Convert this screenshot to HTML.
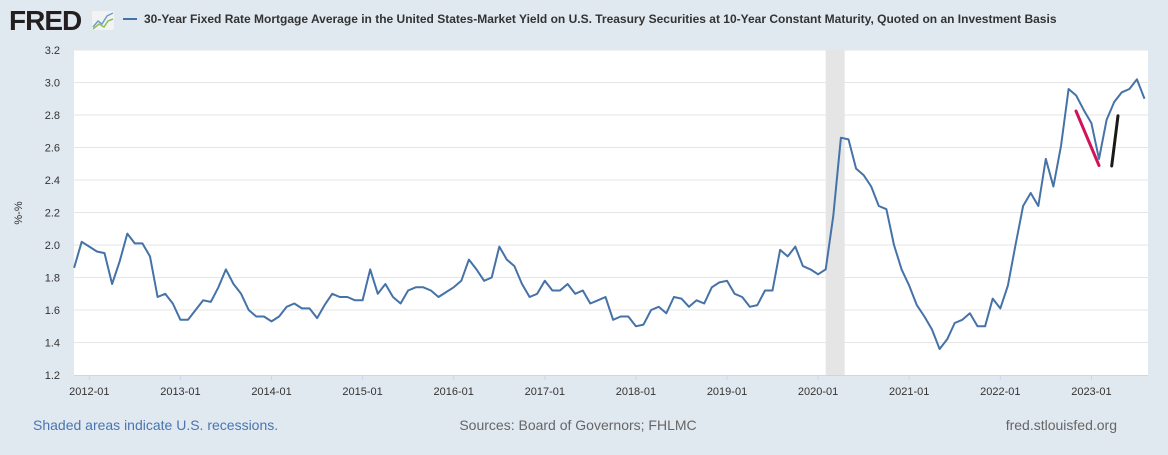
<!DOCTYPE html>
<html><head><meta charset="utf-8"><style>
body{margin:0;width:1168px;height:450px;background:#e1e9f0;font-family:"Liberation Sans",sans-serif;overflow:hidden}
</style></head><body>
<svg width="1168" height="450" xmlns="http://www.w3.org/2000/svg">
<g>
<text x="9" y="30" font-size="28" font-weight="bold" fill="#231f20" letter-spacing="-1">FRED</text>
<rect x="92" y="11" width="22" height="19" fill="#f3f3f3" rx="2"/>
<polyline points="93,27 98,21 102,24 107,16 113,13" fill="none" stroke="#6fa0d0" stroke-width="1.5"/>
<polyline points="93,29 99,24 104,27 108,21 113,19" fill="none" stroke="#8dbf5a" stroke-width="1.5"/>
</g>
<line x1="123" y1="19" x2="137" y2="19" stroke="#4572a7" stroke-width="2"/>
<text x="144" y="23" font-size="12" font-weight="bold" fill="#333">30-Year Fixed Rate Mortgage Average in the United States-Market Yield on U.S. Treasury Securities at 10-Year Constant Maturity, Quoted on an Investment Basis</text>
<rect x="74" y="50" width="1074" height="325" fill="#fff"/>
<g id="grid"></g>
<g id="rec"></g>
<g id="yt"></g>
<g id="xt"></g>
<path id="series" fill="none" stroke="#4572a7" stroke-width="2" stroke-linejoin="round"/>
<line x1="1076" y1="111" x2="1099" y2="165.5" stroke="#d1145a" stroke-width="3" stroke-linecap="round"/>
<line x1="1111.7" y1="166" x2="1118" y2="115.7" stroke="#1a1a1a" stroke-width="3" stroke-linecap="round"/>
<text transform="translate(22,213) rotate(-90)" font-size="11" fill="#333" text-anchor="middle">%-%</text>
<text x="33" y="430" font-size="14" fill="#4a74b0">Shaded areas indicate U.S. recessions.</text>
<text x="578" y="430" font-size="14" fill="#666" text-anchor="middle">Sources: Board of Governors; FHLMC</text>
<text x="1117" y="430" font-size="14" fill="#666" text-anchor="end">fred.stlouisfed.org</text>
</svg>
<script>
const startYear = 2011, startMonth = 11;
const values = [1.86,2.02,1.99,1.96,1.95,1.76,1.90,2.07,2.01,2.01,1.93,1.68,1.70,1.64,
1.54,1.54,1.60,1.66,1.65,1.74,1.85,1.76,1.70,1.60,1.56,1.56,
1.53,1.56,1.62,1.64,1.61,1.61,1.55,1.63,1.70,1.68,1.68,1.66,
1.66,1.85,1.70,1.76,1.68,1.64,1.72,1.74,1.74,1.72,1.68,1.71,
1.74,1.78,1.91,1.85,1.78,1.80,1.99,1.91,1.87,1.76,1.68,1.70,
1.78,1.72,1.72,1.76,1.70,1.72,1.64,1.66,1.68,1.54,1.56,1.56,
1.50,1.51,1.60,1.62,1.58,1.68,1.67,1.62,1.66,1.64,1.74,1.77,
1.78,1.70,1.68,1.62,1.63,1.72,1.72,1.97,1.93,1.99,1.87,1.85,
1.82,1.85,2.18,2.66,2.65,2.47,2.43,2.36,2.24,2.22,2.00,1.85,
1.75,1.63,1.56,1.48,1.36,1.42,1.52,1.54,1.58,1.50,1.50,1.67,
1.61,1.75,2.00,2.24,2.32,2.24,2.53,2.36,2.61,2.96,2.92,2.83,
2.75,2.53,2.77,2.88,2.94,2.96,3.02,2.90];
const yTicks = ["1.2","1.4","1.6","1.8","2.0","2.2","2.4","2.6","2.8","3.0","3.2"];
const xTicks = ["2012-01","2013-01","2014-01","2015-01","2016-01","2017-01","2018-01","2019-01","2020-01","2021-01","2022-01","2023-01"];
const recession = [2020+1/12, 2020+3.5/12];
const NS="http://www.w3.org/2000/svg";
const xS = t => 89.3 + (t-2012)*91.1;
const yS = v => 375 - (v-1.2)*162.5;
function mk(tag, attrs, parent){const e=document.createElementNS(NS,tag);for(const k in attrs)e.setAttribute(k,attrs[k]);document.getElementById(parent).appendChild(e);return e;}
yTicks.forEach(l=>{const v=parseFloat(l);
 if(v>1.2){const g=mk('line',{x1:74,x2:1148,y1:yS(v),y2:yS(v),stroke:'#e6e6e6','stroke-width':1},'grid');
 
 }
 const t=mk('text',{x:60,y:yS(v)+4,'font-size':11,fill:'#333','text-anchor':'end'},'yt');t.textContent=l;
 
 
});
xTicks.forEach(l=>{const yr=parseInt(l);const x=xS(yr);
 const tk=mk('line',{x1:x,x2:x,y1:375,y2:380,stroke:'#ccd6eb'},'xt');
 
 
 const t=mk('text',{x:x,y:395,'font-size':11,fill:'#333','text-anchor':'middle'},'xt');t.textContent=l;
 
 
});
const r=mk('rect',{x:xS(recession[0]),y:50,width:xS(recession[1])-xS(recession[0]),height:325,fill:'#e5e5e5'},'rec');


mk('line',{x1:74,x2:1148,y1:375.5,y2:375.5,stroke:'#ccd6eb'},'grid');
let d='';
values.forEach((v,i)=>{const t=startYear+(startMonth-1+i)/12;d+=(i?'L':'M')+xS(t).toFixed(1)+','+yS(v).toFixed(1);});
document.getElementById('series').setAttribute('d',d);
</script>
</body></html>
